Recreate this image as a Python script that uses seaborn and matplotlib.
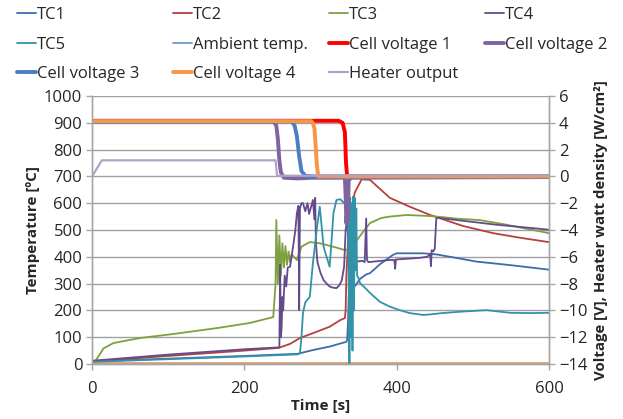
import matplotlib
matplotlib.use("Agg")
import matplotlib.pyplot as plt
import seaborn as sns
import numpy as np

# ---------------- data ----------------
# Temperatures (left axis, degC)
tc1_t = [0, 100, 200, 270, 280, 290, 312, 334, 335, 336, 337, 340, 345, 352, 360, 365, 378, 395, 400, 409, 435, 444, 452, 480, 505, 549, 597, 600]
tc1_v = [10, 20, 30, 38, 45, 52, 65, 83, 90, 150, 250, 280, 290, 318, 334, 339, 372, 407, 413, 413, 413, 411, 409, 395, 382, 369, 353, 352]

tc2_t = [0, 50, 100, 150, 200, 245, 260, 273, 290, 312, 326, 332, 333, 334, 336, 340, 345, 354, 365, 391, 417, 444, 487, 527, 560, 597, 600]
tc2_v = [10, 20, 30, 40, 50, 60, 75, 97, 115, 139, 164, 171, 200, 330, 450, 563, 640, 689, 687, 620, 587, 556, 515, 488, 472, 456, 455]

tc3_t = [0, 4, 10, 15, 28, 63, 107, 164, 207, 238, 241, 242, 244, 246, 248, 250, 252, 254, 256, 258, 260, 262, 265, 269, 275, 286, 300, 308, 320, 332, 340, 345, 355, 365, 380, 391, 413, 444, 460, 480, 509, 540, 570, 597, 600]
tc3_v = [10, 10, 35, 58, 78, 97, 112, 134, 153, 175, 300, 537, 300, 480, 330, 450, 360, 440, 370, 420, 380, 410, 400, 388, 438, 455, 450, 444, 435, 425, 430, 451, 490, 526, 545, 550, 556, 552, 548, 542, 537, 522, 505, 490, 488]

tc4_t = [0, 100, 200, 246, 247, 248, 249, 250, 251, 253, 255, 257, 260, 264, 267, 269, 271, 272, 273, 275, 277, 280, 283, 285, 288, 290, 292, 293, 294, 296, 300, 304, 308, 312, 316, 321, 325, 328, 331, 333, 335, 338, 342, 347, 355, 358, 360, 361, 363, 369, 380, 390, 397, 398, 399, 410, 420, 430, 440, 444, 445, 446, 448, 450, 452, 455, 470, 500, 530, 560, 597, 600]
tc4_v = [12, 35, 55, 62, 370, 100, 139, 250, 200, 330, 289, 360, 363, 438, 500, 563, 590, 201, 580, 600, 600, 570, 600, 560, 590, 612, 540, 620, 450, 380, 340, 313, 300, 289, 285, 283, 295, 313, 363, 500, 540, 380, 390, 382, 385, 380, 543, 388, 380, 382, 385, 388, 388, 355, 390, 392, 394, 396, 400, 410, 365, 425, 420, 430, 543, 545, 540, 530, 520, 512, 502, 500]

tc5_t = [0, 100, 200, 270, 273, 275, 277, 280, 286, 290, 295, 299, 302, 304, 308, 312, 315, 317, 321, 326, 331, 334, 336, 337, 338, 339, 340, 341, 342, 343, 344, 345, 346, 347, 348, 350, 352, 360, 365, 378, 391, 404, 417, 435, 444, 460, 483, 518, 549, 575, 597, 600]
tc5_v = [8, 18, 28, 36, 40, 100, 190, 230, 251, 376, 500, 587, 500, 438, 400, 363, 480, 563, 612, 615, 600, 620, 625, 300, 0, 620, 100, 600, 50, 625, 200, 620, 350, 580, 330, 320, 301, 280, 265, 232, 214, 201, 190, 183, 185, 190, 195, 201, 191, 190, 191, 191]

amb_t = [0, 600]
amb_v = [1, 1]

base_t = [0, 600]
base_v = [4, 4]

# Voltages / heater (right axis)
cv1_t = [0, 324, 329, 332, 333.5, 335, 600]
cv1_v = [4.15, 4.15, 4.0, 3.3, 1.0, 0.0, 0.0]

cv2_t = [0, 238, 242, 244, 246, 248, 252, 270, 290, 332, 333, 334, 335, 336, 337, 340, 600]
cv2_v = [4.1, 4.1, 3.8, 2.8, 1.2, 0.3, -0.1, -0.15, -0.1, -0.1, -1.5, -3.5, -2.5, -3.2, -0.3, -0.1, -0.05]

cv3_t = [0, 262, 266, 269, 272, 275, 280, 290, 600]
cv3_v = [4.1, 4.1, 3.8, 3.0, 1.5, 0.4, 0.05, 0.0, 0.0]

cv4_t = [0, 288, 290, 292, 294, 295, 297, 600]
cv4_v = [4.12, 4.12, 3.95, 3.6, 2.0, 1.0, 0.0, 0.0]

heat_t = [0, 13, 241, 243, 600]
heat_v = [0.0, 1.2, 1.2, 0.05, 0.05]

x_ticks = [0, 200, 400, 600]
left_ticks = list(range(0, 1001, 100))
right_ticks = list(range(-14, 7, 2))

# ---------------- style ----------------
sns.set_style("white")
plt.rcParams['font.family'] = ['Open Sans', 'DejaVu Sans']

W, H = 623, 419
fig = plt.figure(figsize=(W / 100, H / 100), dpi=100)
ax = fig.add_axes([92 / W, 1 - 364 / H, (549 - 92) / W, (364 - 96) / H])
ax2 = ax.twinx()

thin = 1.3
thick = 2.8

c_tc1 = "#3E6BAA"
c_tc2 = "#B5413E"
c_tc3 = "#7FA03E"
c_tc4 = "#634A8C"
c_tc5 = "#3293A8"
c_amb = "#6E9AD0"
c_cv1 = "#FF0000"
c_cv2 = "#8064A2"
c_cv3 = "#4A7FC1"
c_cv4 = "#F79646"
c_heat = "#B3A2C7"

sns.lineplot(x=amb_t, y=amb_v, ax=ax, color=c_amb, linewidth=thin, label="Ambient temp.", sort=False)
sns.lineplot(x=base_t, y=base_v, ax=ax, color="#E0A070", linewidth=thin, label="_nolegend_", sort=False)
sns.lineplot(x=tc1_t, y=tc1_v, ax=ax, color=c_tc1, linewidth=thin, label="TC1", sort=False)
sns.lineplot(x=tc2_t, y=tc2_v, ax=ax, color=c_tc2, linewidth=thin, label="TC2", sort=False)
sns.lineplot(x=tc3_t, y=tc3_v, ax=ax, color=c_tc3, linewidth=thin, label="TC3", sort=False)
sns.lineplot(x=tc4_t, y=tc4_v, ax=ax, color=c_tc4, linewidth=thin, label="TC4", sort=False)
sns.lineplot(x=tc5_t, y=tc5_v, ax=ax, color=c_tc5, linewidth=thin, label="TC5", sort=False)

sns.lineplot(x=cv1_t, y=cv1_v, ax=ax2, color=c_cv1, linewidth=thick, label="Cell voltage 1", sort=False)
sns.lineplot(x=cv2_t, y=cv2_v, ax=ax2, color=c_cv2, linewidth=thick, label="Cell voltage 2", sort=False)
sns.lineplot(x=cv3_t, y=cv3_v, ax=ax2, color=c_cv3, linewidth=thick, label="Cell voltage 3", sort=False)
sns.lineplot(x=cv4_t, y=cv4_v, ax=ax2, color=c_cv4, linewidth=thick, label="Cell voltage 4", sort=False)
sns.lineplot(x=heat_t, y=heat_v, ax=ax2, color=c_heat, linewidth=1.6, label="Heater output", sort=False)

# collect handles
h1, l1 = ax.get_legend_handles_labels()
h2, l2 = ax2.get_legend_handles_labels()
hd = dict(zip(l1 + l2, h1 + h2))
for a in (ax, ax2):
    if a.get_legend() is not None:
        a.get_legend().remove()

columns = [["TC1", "TC5", "Cell voltage 3"],
           ["TC2", "Ambient temp.", "Cell voltage 4"],
           ["TC3", "Cell voltage 1", "Heater output"],
           ["TC4", "Cell voltage 2"]]
col_x = [17, 173, 329, 485]
for cx, names in zip(col_x, columns):
    leg = fig.legend([hd[k] for k in names], names, ncol=1, loc="upper left",
                     bbox_to_anchor=(cx / W, 1 - 7 / H), frameon=False, fontsize=12,
                     handlelength=1.15, handletextpad=0.05,
                     labelspacing=0.82, borderaxespad=0.0, borderpad=0.0)

# axes
ax.set_xlim(0, 600)
ax.set_ylim(0, 1000)
ax2.set_ylim(-14, 6)
ax.set_xticks(x_ticks)
ax.set_yticks(left_ticks)
ax2.set_yticks(right_ticks)
ax.tick_params(axis="both", labelsize=12, length=4, width=1, color="#A6A6A6", direction="out")
ax.tick_params(axis="x", pad=8, bottom=True)
ax.tick_params(axis="y", pad=3, left=True)
ax2.tick_params(axis="y", labelsize=12, length=4, width=1, color="#A6A6A6", direction="out", pad=3, right=True)
ax.yaxis.grid(True, color="#A0A0A0", linewidth=1)
ax.xaxis.grid(False)
ax2.grid(False)
ax.set_axisbelow(True)
for a in (ax, ax2):
    for s in a.spines.values():
        s.set_color("#A6A6A6")
        s.set_linewidth(1)
    a.spines["top"].set_visible(False)

ax.set_xlabel("Time [s]", fontsize=11, fontweight="bold", labelpad=2)
ax.set_ylabel("Temperature [ºC]", fontsize=11, fontweight="bold", labelpad=3)
ax2.set_ylabel("Voltage [V], Heater watt density [W/cm²]", fontsize=10.8, fontweight="bold", labelpad=5)

fig.savefig("out.png", dpi=100)
